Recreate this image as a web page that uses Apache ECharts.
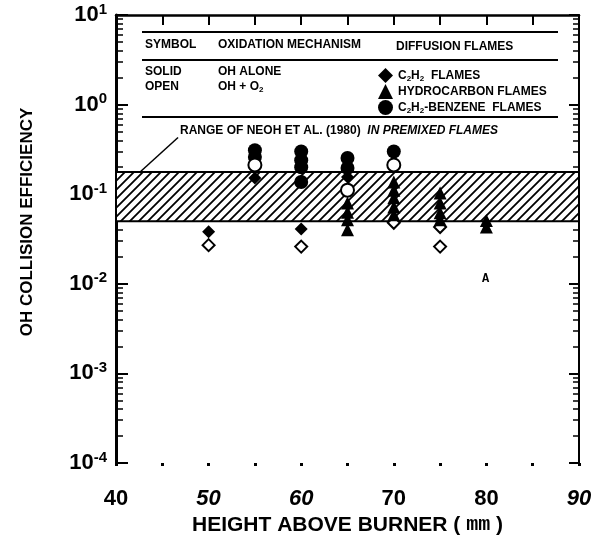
<!DOCTYPE html>
<html>
<head>
<meta charset="utf-8">
<script src="https://cdn.jsdelivr.net/npm/echarts@6/dist/echarts.min.js"></script>
<style>
  html, body { margin: 0; padding: 0; background: #fff; }
  #chart { width: 601px; height: 540px; }
</style>
</head>
<body>
<div id="chart"></div>
<script>
// heights above burner (mm) and OH collision efficiency
const xTicks = [40, 50, 60, 70, 80, 90];
const italicTicks = [50, 60, 90];
const neohRange = [0.050, 0.177];

// C2H2 flames
const c2h2Solid = [[50, 0.038], [55, 0.152], [60, 0.041], [65, 0.156]];
const c2h2Open = [[50, 0.027], [60, 0.026], [70, 0.048], [75, 0.043], [75, 0.026]];
// hydrocarbon flames
const hcSolid = [
  [65, 0.080], [65, 0.063], [65, 0.052], [65, 0.040],
  [70, 0.137], [70, 0.111], [70, 0.091], [70, 0.072], [70, 0.059],
  [75, 0.103], [75, 0.080], [75, 0.062], [75, 0.052],
  [80, 0.051], [80, 0.043]
];
// C2H2-benzene flames
const benzSolid = [
  [55, 0.31], [55, 0.26],
  [60, 0.30], [60, 0.24], [60, 0.20], [60, 0.137],
  [65, 0.254], [65, 0.196],
  [70, 0.30]
];
const benzOpen = [[55, 0.212], [65, 0.111], [70, 0.212]];

const FONT = '"Liberation Sans", Arial, sans-serif';

// hatch pattern for the Neoh range band
function makeHatch() {
  const s = 9;
  const c = document.createElement('canvas');
  c.width = s; c.height = s;
  const ctx = c.getContext('2d');
  ctx.fillStyle = '#fff';
  ctx.fillRect(0, 0, s, s);
  ctx.strokeStyle = '#000';
  ctx.lineWidth = 1.8;
  ctx.beginPath();
  ctx.moveTo(-1, s + 1); ctx.lineTo(s + 1, -1);
  ctx.moveTo(-1, 1); ctx.lineTo(1, -1);
  ctx.moveTo(s - 1, s + 1); ctx.lineTo(s + 1, s - 1);
  ctx.stroke();
  return c;
}

const solid = { color: '#000', opacity: 1 };
const open = { color: '#fff', borderColor: '#000', borderWidth: 2, opacity: 1 };

const legendNames = {
  'C2H2 FLAMES': 'C{sub|2}H{sub|2}  FLAMES',
  'HYDROCARBON FLAMES': 'HYDROCARBON FLAMES',
  'C2H2-BENZENE FLAMES': 'C{sub|2}H{sub|2}-BENZENE  FLAMES'
};

const subRich = { sub: { fontSize: 8, fontWeight: 'bold', fontFamily: FONT, color: '#000', padding: [6, 0, 0, 0] } };

const tableText = (x, y, text, extra) => Object.assign({
  type: 'text', left: x, top: y,
  style: { text: text, fill: '#000', font: 'bold 12px ' + FONT, rich: subRich }
}, extra || {});

const hLine = (y) => ({
  type: 'line', shape: { x1: 142, y1: y, x2: 558, y2: y },
  style: { stroke: '#000', lineWidth: 2 }
});

const chart = echarts.init(document.getElementById('chart'));

const options = {
  animation: false,
  backgroundColor: '#fff',
  grid: { left: 116, right: 22, top: 15, bottom: 77, outerBoundsMode: 'none' },
  legend: {
    data: Object.keys(legendNames),
    orient: 'vertical',
    left: 373,
    top: 63,
    itemWidth: 15,
    itemHeight: 15,
    itemGap: 1,
    selectedMode: false,
    formatter: (name) => legendNames[name],
    textStyle: {
      color: '#000', fontSize: 12, fontWeight: 'bold', fontFamily: FONT,
      rich: subRich
    }
  },
  xAxis: [
    {
      type: 'value',
      min: 40,
      max: 90,
      interval: 5,
      position: 'bottom',
      axisLine: { show: false },
      axisTick: { show: true, length: 3, lineStyle: { color: '#000', width: 3 } },
      splitLine: { show: false },
      axisLabel: {
        margin: 25,
        formatter: (v) => {
          if (!xTicks.includes(v)) return '';
          return italicTicks.includes(v) ? '{i|' + v + '}' : '{b|' + v + '}';
        },
        rich: {
          b: { fontSize: 22, fontWeight: 'bold', fontFamily: FONT, color: '#000' },
          i: { fontSize: 22, fontWeight: 'bold', fontStyle: 'italic', fontFamily: FONT, color: '#000' }
        }
      },
      name: 'HEIGHT ABOVE BURNER {p|( }{m|mm}{p| )}',
      nameLocation: 'middle',
      nameGap: 51,
      nameTextStyle: {
        fontSize: 21, fontWeight: 'bold', fontFamily: FONT, color: '#000',
        rich: {
          p: { fontSize: 21, fontFamily: FONT, color: '#000' },
          m: { fontSize: 20, fontWeight: 'bold', fontFamily: '"Liberation Mono", monospace', color: '#000' }
        }
      }
    },
    {
      type: 'value',
      min: 40,
      max: 90,
      interval: 5,
      position: 'top',
      axisLine: { show: true, lineStyle: { color: '#000', width: 2.5 } },
      axisTick: { show: true, inside: true, length: 10, lineStyle: { color: '#000', width: 2 } },
      axisLabel: { show: false },
      splitLine: { show: false }
    }
  ],
  yAxis: [
    {
      type: 'log',
      logBase: 10,
      min: 1e-4,
      max: 10,
      position: 'left',
      axisLine: { show: true, lineStyle: { color: '#000', width: 3 } },
      axisTick: { show: true, inside: true, length: 12, lineStyle: { color: '#000', width: 2 } },
      minorTick: { show: true, splitNumber: 9, length: 7, lineStyle: { color: '#000', width: 1.5 } },
      splitLine: { show: false },
      axisLabel: {
        margin: 9,
        formatter: (v) => {
          const e = Math.round(Math.log10(v));
          return '{b|10}{s|' + e + '}';
        },
        rich: {
          b: { fontSize: 22, fontFamily: FONT, fontWeight: 'bold', color: '#000', lineHeight: 26 },
          s: { fontSize: 15, fontFamily: FONT, fontWeight: 'bold', color: '#000', verticalAlign: 'top', lineHeight: 26 }
        }
      },
      name: 'OH COLLISION EFFICIENCY',
      nameLocation: 'middle',
      nameRotate: 90,
      nameGap: 80,
      nameTextStyle: {
        fontSize: 17, fontWeight: 'bold', fontFamily: FONT, color: '#000',
        padding: [0, 0, 0, 34]
      }
    },
    {
      type: 'log',
      logBase: 10,
      min: 1e-4,
      max: 10,
      position: 'right',
      axisLine: { show: true, lineStyle: { color: '#000', width: 2 } },
      axisTick: { show: true, inside: true, length: 10, lineStyle: { color: '#000', width: 2 } },
      minorTick: { show: true, splitNumber: 9, length: 6, lineStyle: { color: '#000', width: 1.5 } },
      axisLabel: { show: false },
      splitLine: { show: false }
    }
  ],
  graphic: [
    hLine(32),
    hLine(60),
    hLine(117),
    tableText(145, 39, 'SYMBOL'),
    tableText(218, 39, 'OXIDATION MECHANISM'),
    tableText(396, 41, 'DIFFUSION FLAMES'),
    tableText(145, 66, 'SOLID'),
    tableText(218, 66, 'OH ALONE'),
    tableText(145, 81, 'OPEN'),
    tableText(218, 81, 'OH + O{sub|2}'),
    {
      type: 'text', left: 180, top: 125,
      style: {
        text: 'RANGE OF NEOH ET AL. (1980)  {it|IN PREMIXED FLAMES}',
        fill: '#000', font: 'bold 12px ' + FONT,
        rich: { it: { fontSize: 12, fontWeight: 'bold', fontStyle: 'italic', fontFamily: FONT, color: '#000' } }
      }
    },
    {
      type: 'text', left: 482, top: 273,
      style: { text: 'A', fill: '#000', font: 'bold 12px "Liberation Mono", monospace' }
    }
  ],
  series: [
    {
      name: 'range',
      type: 'scatter',
      data: [],
      z: 1,
      markArea: {
        silent: true,
        itemStyle: {
          color: { image: makeHatch(), repeat: 'repeat' },
          borderColor: '#000',
          borderWidth: 2
        },
        data: [[{ xAxis: 40, yAxis: neohRange[0] }, { xAxis: 90, yAxis: neohRange[1] }]]
      },
      markLine: {
        silent: true,
        symbol: ['none', 'none'],
        label: { show: false },
        lineStyle: { color: '#000', width: 1.5, type: 'solid' },
        data: [[{ coord: [42.6, neohRange[1]] }, { coord: [46.7, 0.43] }]]
      }
    },
    { name: 'C2H2 FLAMES', type: 'scatter', symbol: 'diamond', symbolSize: 13, itemStyle: solid, data: c2h2Solid, z: 3 },
    { name: 'C2H2 FLAMES', type: 'scatter', symbol: 'diamond', symbolSize: 12, itemStyle: open, data: c2h2Open, z: 3 },
    { name: 'HYDROCARBON FLAMES', type: 'scatter', symbol: 'triangle', symbolSize: 13, itemStyle: solid, data: hcSolid, z: 3 },
    { name: 'C2H2-BENZENE FLAMES', type: 'scatter', symbol: 'circle', symbolSize: 14, itemStyle: solid, data: benzSolid, z: 3 },
    { name: 'C2H2-BENZENE FLAMES', type: 'scatter', symbol: 'circle', symbolSize: 13, itemStyle: open, data: benzOpen, z: 4 }
  ]
};

chart.setOption(options);
</script>
</body>
</html>
